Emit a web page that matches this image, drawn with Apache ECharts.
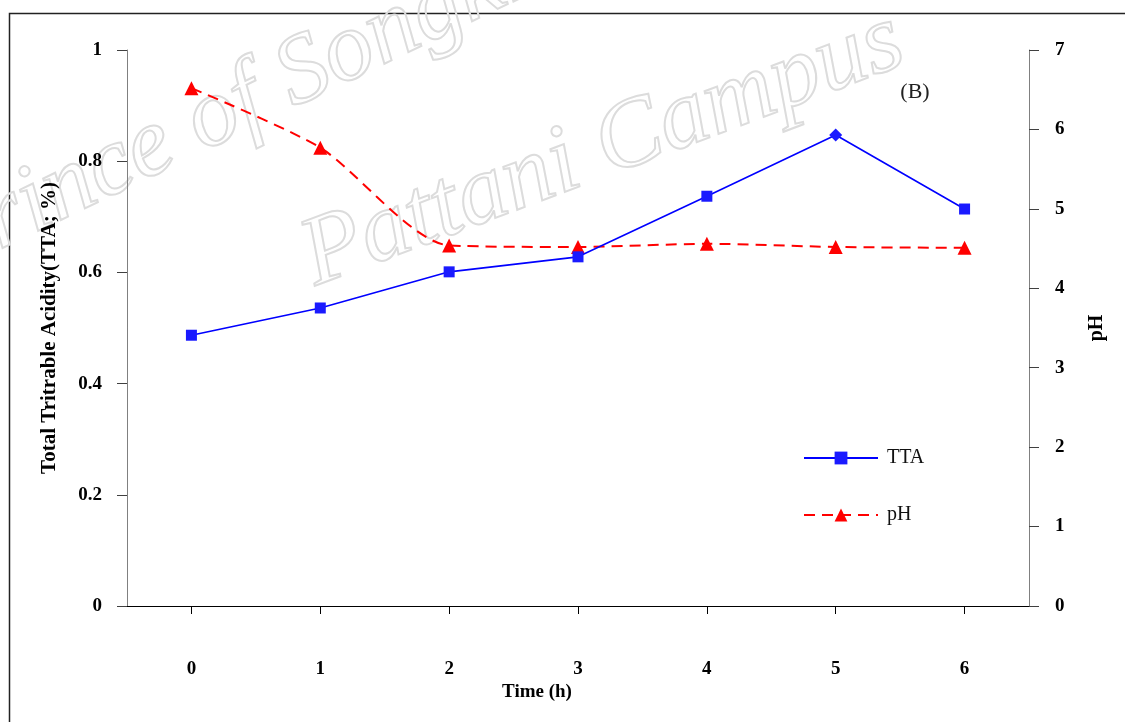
<!DOCTYPE html>
<html>
<head>
<meta charset="utf-8">
<script src="https://cdn.jsdelivr.net/npm/echarts@6/dist/echarts.min.js"></script>
<style>html,body{margin:0;padding:0;background:#fff}#c{width:1125px;height:722px}</style>
</head>
<body>
<div id="c"></div>
<script>
const categories = ['0', '1', '2', '3', '4', '5', '6'];
const ttaValues = [0.487, 0.536, 0.601, 0.628, 0.737, 0.847, 0.714];
const phValues = [6.52, 5.77, 4.54, 4.52, 4.56, 4.52, 4.51];
const leftTicks = { min: 0, max: 1, interval: 0.2 };
const rightTicks = { min: 0, max: 7, interval: 1 };

const serif = '"Liberation Serif", "Times New Roman", serif';
const chart = echarts.init(document.getElementById('c'), null, { renderer: 'canvas' });

const ttaData = ttaValues.map((v, i) => i === 5 ? { value: v, symbol: 'diamond', symbolSize: 13 } : v);

chart.setOption({
  backgroundColor: '#fff',
  animation: false,
  grid: { left: 127, right: 96, top: 50, bottom: 116 },
  legend: {
    orient: 'vertical', left: 803, top: 448, padding: 0, itemWidth: 74, itemHeight: 16, itemGap: 37,
    textStyle: { fontFamily: serif, fontSize: 20, color: '#111', padding: [0, 0, 0, 4] },
    data: ['TTA', 'pH']
  },
  xAxis: {
    type: 'category', data: categories, boundaryGap: true,
    axisLine: { lineStyle: { color: '#000', width: 1 } },
    axisTick: { show: true, alignWithLabel: true, length: 8, lineStyle: { color: '#000' } },
    axisLabel: { margin: 54, fontFamily: serif, fontWeight: 'bold', fontSize: 19, color: '#000' },
    splitLine: { show: false }
  },
  yAxis: [
    {
      type: 'value', position: 'left', min: leftTicks.min, max: leftTicks.max, interval: leftTicks.interval,
      name: 'Total Tritrable Acidity(TTA; %)', nameLocation: 'middle', nameGap: 67, nameRotate: 90,
      nameTextStyle: { fontFamily: serif, fontWeight: 'bold', fontSize: 21, color: '#000' },
      axisLine: { show: true, lineStyle: { color: '#808080' } },
      axisTick: { show: true, length: 10, lineStyle: { color: '#404040' } },
      axisLabel: { margin: 25, fontFamily: serif, fontWeight: 'bold', fontSize: 19, color: '#000' },
      splitLine: { show: false }
    },
    {
      type: 'value', position: 'right', min: rightTicks.min, max: rightTicks.max, interval: rightTicks.interval,
      name: 'pH', nameLocation: 'middle', nameGap: 58, nameRotate: 90,
      nameTextStyle: { fontFamily: serif, fontWeight: 'bold', fontSize: 20, color: '#000' },
      axisLine: { show: true, lineStyle: { color: '#808080' } },
      axisTick: { show: true, length: 10, lineStyle: { color: '#404040' } },
      axisLabel: { margin: 26, fontFamily: serif, fontWeight: 'bold', fontSize: 19, color: '#000' },
      splitLine: { show: false }
    }
  ],
  series: [
    {
      name: 'TTA', type: 'line', yAxisIndex: 0, data: ttaData,
      symbol: 'rect', symbolSize: 11,
      lineStyle: { color: '#0000ff', width: 1.6 },
      itemStyle: { color: '#1a1aff' }, z: 3
    },
    {
      name: 'pH', type: 'line', yAxisIndex: 1, data: phValues,
      symbol: 'triangle', symbolSize: 14, smooth: 0.25,
      lineStyle: { color: '#ff0000', width: 2, type: [11, 7] },
      itemStyle: { color: '#ff0000' }, z: 2
    }
  ],
  graphic: [
    { type: 'rect', left: 7, top: 11, shape: { width: 1200, height: 800 }, style: { fill: 'none', stroke: '#222', lineWidth: 1.5 }, silent: true, z: -10 },
    { type: 'text', x: 915, y: 92, style: { text: '(B)', font: '22px ' + serif, fill: '#222', textAlign: 'center', textVerticalAlign: 'middle' }, z: 5 },
    { type: 'text', x: 537, y: 692, style: { text: 'Time (h)', font: 'bold 19px ' + serif, fill: '#000', textAlign: 'center', textVerticalAlign: 'middle' }, z: 5 },
    { type: 'text', x: 250, y: 100, rotation: 0.45, style: { text: 'Prince of Songkla', font: 'italic 98px ' + serif, fill: 'rgba(255,255,255,0)', stroke: '#dcdcdc', lineWidth: 2, textAlign: 'center', textVerticalAlign: 'middle' }, z: -5, silent: true },
    { type: 'text', x: 603, y: 150, rotation: 0.36, style: { text: 'Pattani Campus', font: 'italic 98px ' + serif, fill: 'rgba(255,255,255,0)', stroke: '#dcdcdc', lineWidth: 2, textAlign: 'center', textVerticalAlign: 'middle' }, z: -5, silent: true }
  ]
});
</script>
</body>
</html>
